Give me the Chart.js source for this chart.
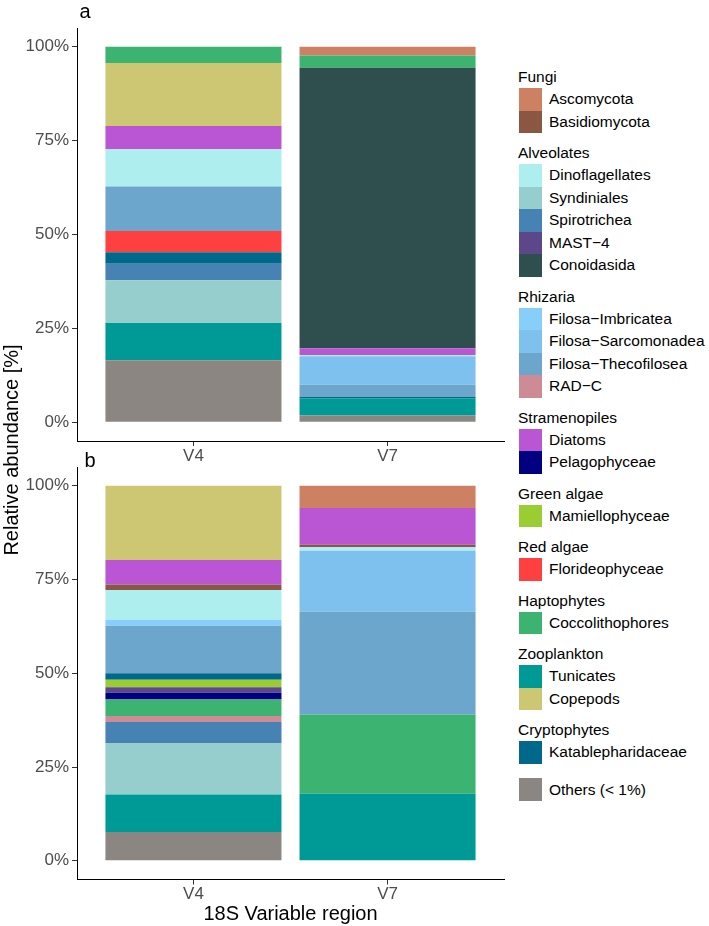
<!DOCTYPE html>
<html>
<head>
<meta charset="utf-8">
<script src="https://cdn.jsdelivr.net/npm/chart.js@4"></script>
<style>
  body { margin: 0; background: #fff; font-family: 'Liberation Sans', Arial, sans-serif; }
  #wrap { position: relative; width: 709px; height: 926px; overflow: hidden; }
  canvas { position: absolute; left: 0; }
  .tag { position: absolute; font-size: 20px; line-height: 20px; color: #000; }
  #ytitle { position: absolute; left: -139px; top: 439.5px; width: 300px; text-align: center;
            font-size: 20px; line-height: 20px; transform: rotate(-90deg); }
  #xtitle { position: absolute; left: 140.5px; top: 903px; width: 300px; text-align: center;
            font-size: 20px; line-height: 20px; }
  #legend { position: absolute; left: 518px; top: 65.2px; font-size: 15.5px; color: #000; }
  .grp { margin-bottom: 8px; }
  .grp .hd { height: 23px; line-height: 23px; }
  .row { height: 22.5px; display: flex; align-items: center; }
  .sw { width: 22.5px; height: 22.5px; margin-left: 1px; }
  .lb { margin-left: 7.5px; white-space: nowrap; }
</style>
</head>
<body>
<div id="wrap">
  <canvas id="ca" width="515" height="470" style="top:0"></canvas>
  <canvas id="cb" width="515" height="486" style="top:440px"></canvas>
  <div class="tag" style="left:79.5px;top:1px">a</div>
  <div class="tag" style="left:84.5px;top:450px">b</div>
  <div id="ytitle">Relative abundance [%]</div>
  <div id="xtitle">18S Variable region</div>
  <div id="legend"></div>
</div>
<script>
const regions = ['V4', 'V7'];
const yTicks = [0, 25, 50, 75, 100];

// panel a, stack order bottom -> top
const taxaA = ['Others (< 1%)', 'Tunicates', 'Syndiniales', 'Spirotrichea', 'Katablepharidaceae',
  'Florideophyceae', 'Filosa−Thecofilosea', 'Filosa−Sarcomonadea', 'Dinoflagellates', 'Diatoms',
  'Copepods', 'Conoidasida', 'Coccolithophores', 'Ascomycota'];
const aV4 = [16.5, 9.9, 11.4, 4.4, 3.1, 5.6, 11.9, 0, 9.9, 6.2, 16.8, 0, 4.3, 0];
const aV7 = [1.8, 4.6, 0, 0, 0.3, 0, 3.3, 7.6, 0.3, 1.8, 0, 74.7, 3.3, 2.3];

// panel b, stack order bottom -> top
const taxaB = ['Others (< 1%)', 'Tunicates', 'Syndiniales', 'Spirotrichea', 'RAD−C', 'Coccolithophores',
  'Pelagophyceae', 'MAST−4', 'Mamiellophyceae', 'Katablepharidaceae', 'Filosa−Thecofilosea',
  'Filosa−Sarcomonadea', 'Filosa−Imbricatea', 'Dinoflagellates', 'Basidiomycota', 'Diatoms',
  'Copepods', 'Ascomycota'];
const bV4 = [7.7, 10.0, 13.7, 5.6, 1.6, 4.4, 1.8, 1.5, 2.0, 1.7, 12.7, 0, 1.6, 7.9, 1.4, 6.6, 19.8, 0];
const bV7 = [0, 17.9, 0, 0, 0, 21.1, 0, 0, 0, 0, 27.5, 16.2, 0, 0.9, 0.7, 9.8, 0, 5.9];

// legend groups
const groupNames = ['Fungi', 'Alveolates', 'Rhizaria', 'Stramenopiles', 'Green algae', 'Red algae',
  'Haptophytes', 'Zooplankton', 'Cryptophytes', ''];
const groupTaxa = [
  ['Ascomycota', 'Basidiomycota'],
  ['Dinoflagellates', 'Syndiniales', 'Spirotrichea', 'MAST−4', 'Conoidasida'],
  ['Filosa−Imbricatea', 'Filosa−Sarcomonadea', 'Filosa−Thecofilosea', 'RAD−C'],
  ['Diatoms', 'Pelagophyceae'],
  ['Mamiellophyceae'],
  ['Florideophyceae'],
  ['Coccolithophores'],
  ['Tunicates', 'Copepods'],
  ['Katablepharidaceae'],
  ['Others (< 1%)'],
];

const taxonColors = {
  'Ascomycota': '#CD8162', 'Basidiomycota': '#8B5742',
  'Dinoflagellates': '#AFEEEE', 'Syndiniales': '#96CDCD', 'Spirotrichea': '#4682B4',
  'MAST−4': '#5D478B', 'Conoidasida': '#2F4F4F',
  'Filosa−Imbricatea': '#87CEFA', 'Filosa−Sarcomonadea': '#7EC0EE',
  'Filosa−Thecofilosea': '#6CA6CD', 'RAD−C': '#CD8C95',
  'Diatoms': '#BA55D3', 'Pelagophyceae': '#000080',
  'Mamiellophyceae': '#9ACD32', 'Florideophyceae': '#FF4040',
  'Coccolithophores': '#3CB371', 'Tunicates': '#009A96', 'Copepods': '#CDC673',
  'Katablepharidaceae': '#00688B', 'Others (< 1%)': '#8B8682',
};

const FONT = "'Liberation Sans', Arial, sans-serif";

function makePanel(canvasId, taxa, v4, v7, topPad, xHeight) {
  const datasets = taxa.map((t, i) => ({
    label: t,
    data: [{ x: 1, y: v4[i] }, { x: 2, y: v7[i] }],
    backgroundColor: taxonColors[t],
    borderWidth: 0,
    barPercentage: 0.907,
    categoryPercentage: 1,
  }));
  const axisGrid = { display: true, drawOnChartArea: false, offset: false, tickLength: 5, color: '#333' };
  return new Chart(document.getElementById(canvasId), {
    type: 'bar',
    data: { datasets },
    options: {
      responsive: false, animation: false,
      plugins: { legend: { display: false }, tooltip: { enabled: false } },
      layout: { padding: { top: topPad, right: 11, left: 0, bottom: 0 } },
      scales: {
        x: {
          type: 'linear', min: 0.4, max: 2.6, stacked: true, offset: false,
          grid: axisGrid, border: { color: '#000', width: 1 },
          afterBuildTicks: s => { s.ticks = regions.map((r, i) => ({ value: i + 1 })); },
          afterFit: s => { s.height = xHeight; },
          ticks: { callback: v => regions[v - 1], color: '#4D4D4D', font: { family: FONT, size: 17 },
                   padding: 0, maxRotation: 0, autoSkip: false },
        },
        y: {
          min: -5, max: 105, stacked: true,
          grid: axisGrid, border: { color: '#000', width: 1 },
          afterBuildTicks: s => { s.ticks = yTicks.map(v => ({ value: v })); },
          afterFit: s => { s.width = 77; },
          ticks: { callback: v => v + '%', color: '#4D4D4D', font: { family: FONT, size: 17 }, padding: 3 },
        },
      },
    },
  });
}

makePanel('ca', taxaA, aV4, aV7, 28, 29);
makePanel('cb', taxaB, bV4, bV7, 27, 46.5);

// legend
const leg = document.getElementById('legend');
groupNames.forEach((g, gi) => {
  const grp = document.createElement('div');
  grp.className = 'grp';
  if (g) {
    const hd = document.createElement('div');
    hd.className = 'hd'; hd.textContent = g;
    grp.appendChild(hd);
  } else {
    grp.style.marginTop = '14.7px';
  }
  groupTaxa[gi].forEach(t => {
    const row = document.createElement('div');
    row.className = 'row';
    row.innerHTML = `<div class="sw" style="background:${taxonColors[t]}"></div><div class="lb"></div>`;
    row.querySelector('.lb').textContent = t;
    grp.appendChild(row);
  });
  leg.appendChild(grp);
});
</script>
</body>
</html>
